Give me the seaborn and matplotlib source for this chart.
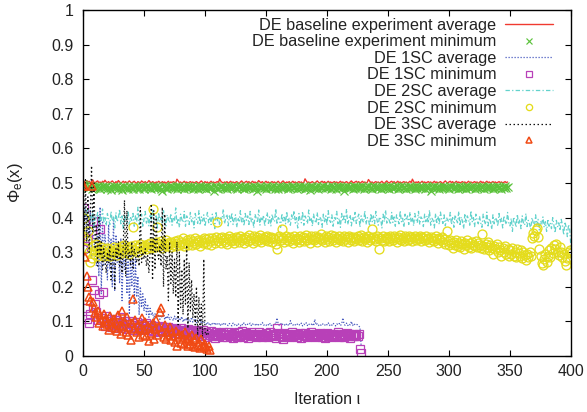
import numpy as np
import matplotlib
matplotlib.use("Agg")
import matplotlib.pyplot as plt
import seaborn as sns
from matplotlib.lines import Line2D
from matplotlib.ticker import FuncFormatter

# ---------------- data (values in thousandths, one value per iteration) ----------------
labels = [
    "DE baseline experiment average",
    "DE baseline experiment minimum",
    "DE 1SC average",
    "DE 1SC minimum",
    "DE 2SC average",
    "DE 2SC minimum",
    "DE 3SC average",
    "DE 3SC minimum",
]

base_avg = [
    500,505,498,507,502,505,501,503,509,502,500,504,506,501,503,499,505,502,508,503,501,504,500,503,506,
    502,499,504,501,507,503,500,502,505,501,504,498,503,506,502,500,503,505,501,499,504,502,500,506,503,
    501,504,500,502,507,503,500,504,502,499,503,501,505,502,500,504,501,503,499,502,505,500,503,501,504,
    502,500,511,506,501,503,499,502,505,501,503,500,502,504,501,503,500,502,504,501,499,503,506,502,500,
    504,501,503,498,502,505,501,503,500,502,504,501,512,505,502,500,503,501,504,499,502,505,501,503,500,
    502,504,501,498,503,506,502,500,503,505,501,504,499,502,505,501,503,500,502,507,503,501,504,500,502,
    505,501,503,499,502,504,501,503,500,502,505,501,498,503,506,502,500,503,501,504,499,502,505,501,503,
    500,502,504,501,503,499,502,512,506,501,503,500,502,504,501,499,503,506,502,500,503,505,501,504,499,
    502,505,501,503,500,502,504,501,503,499,502,505,501,503,500,502,504,501,498,503,506,502,500,503,505,
    501,504,499,502,505,501,503,500,502,510,505,501,503,499,502,504,501,503,500,502,505,501,498,503,506,
    502,500,503,505,501,504,499,502,505,501,503,500,502,504,501,503,499,502,505,501,511,504,500,503,501,
    504,499,502,505,501,503,500,502,504,501,503,499,502,505,501,503,500,502,504,501,498,503,506,502,500,
    503,505,501,504,499,502,505,501,503,500,502,504,501,503,499,502,505,501,503,500,502,504,501,503,499,
    502,505,501,503,499,502,505,501,503,500,502,504,501,503,500,502,504,501,503,500,502,504,501,503,
]

base_min = [
    498,494,492,489,486,490,487,484,491,488,485,489,492,486,483,488,490,485,487,492,484,489,486,481,488,
    490,485,487,491,484,488,486,479,489,492,485,487,483,490,486,488,484,491,487,485,489,482,488,490,486,
    484,489,487,491,485,488,483,490,486,488,492,485,487,489,484,478,488,491,486,484,489,487,492,485,488,
    486,490,484,488,491,485,487,489,483,488,486,490,485,487,492,484,489,486,488,482,490,487,485,489,486,
    488,484,491,486,489,485,487,477,488,490,486,484,489,487,491,485,488,486,483,490,487,489,485,488,492,
    486,484,489,487,490,485,488,483,491,486,488,485,489,487,484,490,486,488,478,487,491,485,489,486,488,
    484,490,487,485,489,486,491,484,488,487,483,490,486,488,485,489,487,492,484,488,486,490,485,487,489,
    483,488,486,491,485,487,490,484,489,486,488,479,487,490,485,488,486,491,484,489,487,485,490,486,488,
    485,489,487,483,490,486,488,484,491,487,485,489,486,488,477,487,490,485,489,486,488,484,491,486,487,
    489,485,488,486,490,484,487,489,485,491,486,488,483,490,487,485,489,486,488,484,490,487,485,489,486,
    488,484,491,486,489,485,487,490,484,488,486,491,485,487,489,483,488,486,490,485,487,489,484,491,486,
    487,485,489,486,488,484,490,487,485,489,478,488,486,491,485,487,489,484,488,486,490,485,487,489,486,
    484,490,487,485,489,486,488,483,491,486,488,485,489,487,484,490,486,488,485,487,491,484,489,486,488,
    485,489,487,490,484,488,486,491,485,487,489,484,488,486,490,485,487,489,484,488,486,490,485,487,
]

sc1_avg = [
    445,380,430,310,400,350,420,280,395,330,300,260,410,230,430,180,390,260,350,300,220,380,250,340,200,
    400,190,350,270,320,210,340,160,300,250,330,180,310,120,290,200,320,150,280,170,230,120,200,140,180,
    130,165,120,150,112,138,118,125,108,122,115,112,120,106,118,110,124,105,115,108,120,104,112,110,102,
    115,106,112,100,110,104,114,98,108,102,110,96,106,100,112,98,104,108,96,102,100,106,94,100,98,
    96,92,98,90,95,88,94,91,97,89,93,90,95,87,92,96,89,93,90,88,94,91,87,95,90,
    92,88,94,90,87,93,89,96,91,88,92,90,95,88,93,89,91,87,94,90,88,92,97,89,91,
    88,93,90,95,87,92,89,94,91,110,93,88,92,96,89,91,87,94,90,88,102,91,89,93,90,
    88,94,91,89,95,87,92,90,96,88,93,89,91,95,87,106,90,93,88,92,89,94,91,88,93,
    90,96,88,92,89,95,91,87,93,90,94,88,92,110,91,89,95,88,93,90,100,88,94,90,92,
    90,86,84,28,
]

sc1_min = [
    310,427,140,107,340,96,120,220,390,190,150,127,105,180,366,110,185,98,88,115,102,92,108,84,96,
    90,105,82,98,86,112,80,94,88,102,78,92,85,100,82,95,76,90,84,98,80,88,75,92,82,
    86,78,94,74,84,80,90,72,86,78,82,70,88,76,80,72,85,74,78,68,84,72,76,70,80,
    66,78,72,74,64,80,70,75,68,72,62,78,70,74,66,71,60,76,68,72,64,70,58,74,66,
    62,70,55,66,60,72,58,64,52,68,61,57,66,63,54,70,60,65,56,62,68,58,64,53,66,
    60,56,68,62,58,72,55,64,60,66,52,63,58,70,61,57,65,54,62,68,59,64,56,62,58,
    66,60,54,68,62,57,64,60,52,80,66,58,63,56,50,67,61,58,65,54,62,69,57,63,60,
    56,64,60,67,53,62,58,66,61,55,64,59,70,57,62,54,65,60,58,66,62,56,64,51,60,
    67,58,63,55,62,60,65,57,61,68,54,62,59,64,56,60,66,58,63,52,61,57,65,59,62,
    58,64,20,9,
]

sc2_avg = [
    445,430,418,402,425,395,410,388,420,372,405,398,415,380,408,392,425,385,400,376,412,395,380,418,390,
    402,370,415,388,398,425,382,405,368,410,395,386,420,378,400,392,412,375,405,388,430,380,398,410,372,
    395,418,384,402,376,410,390,425,382,398,405,370,415,388,400,382,420,392,376,408,395,385,412,378,402,
    390,428,380,398,372,410,395,386,418,375,405,392,380,415,388,400,370,412,395,383,420,378,402,390,408,
    374,398,415,385,402,380,410,392,368,418,388,405,378,400,395,425,382,398,410,376,405,388,414,380,396,
    408,372,400,390,420,384,398,376,412,392,405,380,418,388,396,370,410,398,385,422,378,402,390,407,375,
    398,415,383,402,376,410,392,388,426,380,400,395,372,412,390,405,382,418,386,398,378,408,395,420,384,
    400,370,412,392,385,418,378,405,396,382,422,388,400,375,410,392,384,415,380,402,396,372,410,388,405,
    378,420,392,386,408,375,400,395,418,382,398,372,412,390,405,385,425,380,396,408,376,402,390,415,383,
    398,410,372,405,392,386,420,380,400,394,375,412,388,405,382,418,392,378,402,396,370,410,388,422,384,
    400,392,380,415,386,402,375,408,395,382,420,388,398,372,410,392,405,380,416,386,400,376,412,394,385,
    418,380,402,396,374,410,388,405,384,422,378,398,392,370,412,386,404,380,416,395,383,408,376,400,392,
    388,415,380,400,372,408,394,385,418,376,402,390,368,412,384,405,395,378,420,388,400,374,410,392,382,
    404,385,372,410,390,380,416,376,398,388,366,408,382,400,394,375,412,386,398,370,405,390,380,415,384,
    376,398,360,402,388,372,410,380,395,368,405,385,378,412,374,392,382,366,400,386,372,408,378,395,364,
    390,380,402,372,388,360,396,375,385,368,400,378,356,392,374,385,362,395,378,350,388,372,345,380,365,
    310,
]

sc2_min = [
    346,400,312,335,360,300,272,282,318,295,305,325,290,310,298,315,300,288,308,296,312,302,290,305,298,
    315,300,308,292,312,305,318,298,310,322,302,315,308,296,318,310,373,305,320,312,300,318,325,310,316,
    318,322,310,325,315,328,312,425,320,316,330,373,318,325,332,312,328,320,335,318,326,330,315,328,322,
    332,318,326,336,320,330,325,340,318,328,335,322,330,338,320,332,326,340,324,335,330,318,336,328,342,
    330,338,325,342,332,320,340,335,328,345,387,332,340,326,345,336,330,342,325,338,348,332,340,335,328,
    345,336,340,330,348,335,342,326,338,345,332,350,336,340,328,346,338,332,344,335,350,330,342,338,345,
    336,348,332,340,345,330,342,338,325,309,340,346,335,367,342,330,348,336,340,332,345,338,328,346,335,
    342,338,330,348,336,345,332,340,350,335,342,328,346,338,334,348,340,330,345,338,352,336,342,330,346,
    338,344,332,350,340,336,346,330,342,338,348,335,340,332,346,338,344,330,348,340,336,345,332,342,338,
    346,335,340,350,332,344,338,342,330,348,336,340,367,345,338,332,346,340,309,342,336,348,332,340,345,
    338,332,346,340,335,348,342,330,344,338,350,336,342,332,346,340,335,348,338,344,332,340,346,336,342,
    338,346,332,344,340,335,348,338,342,330,345,336,340,332,346,338,326,340,334,344,330,338,325,360,332,
    320,334,326,312,330,322,336,318,328,315,332,324,310,328,320,335,316,326,312,330,322,318,332,314,326,
    320,312,353,318,308,325,314,330,305,320,312,296,318,308,324,300,315,306,290,312,302,318,296,310,288,
    305,296,312,290,302,286,310,298,288,305,282,300,292,278,296,285,302,290,340,355,348,365,370,345,310,
    288,270,262,280,295,272,290,305,286,312,298,320,310,325,302,292,315,300,285,296,275,262,282,300,305,
    298,
]

sc3_avg = [
    480,360,510,330,460,300,420,550,360,500,310,380,260,400,290,330,250,310,280,240,300,270,320,220,290,
    300,190,310,280,330,260,300,240,320,450,230,420,280,300,260,330,250,310,290,270,300,260,430,270,300,
    280,310,260,290,240,300,440,220,420,250,400,300,280,320,260,430,200,410,250,290,160,330,210,300,180,
    280,170,330,90,300,140,250,120,280,150,320,80,270,130,220,110,180,90,200,60,170,80,150,50,280,
    70,60,75,55,
]

sc3_min = [
    490,492,285,230,200,170,160,490,155,140,125,112,130,95,118,105,88,120,100,110,92,75,115,98,85,
    108,80,95,72,118,90,65,130,88,100,70,112,60,85,46,95,165,78,105,68,90,55,82,110,62,
    75,98,58,88,42,80,66,95,50,78,105,60,85,127,140,72,55,90,48,70,62,85,45,68,58,
    40,72,30,55,65,38,60,48,35,70,42,28,55,36,62,30,45,25,52,33,40,22,48,30,26,
    35,25,20,28,18,
]

series_values = [base_avg, base_min, sc1_avg, sc1_min, sc2_avg, sc2_min, sc3_avg, sc3_min]

x_ticks = list(range(0, 401, 50))
y_ticks = [round(0.1 * k, 1) for k in range(11)]

# ---------------- styles ----------------
styles = [
    dict(color="#f03a30", linestyle="-", linewidth=1.0),
    dict(color="#5cc23c", linestyle="", marker="x", markersize=5.2,
         markeredgewidth=0.85, markerfacecolor="none", markeredgecolor="#5cc23c"),
    dict(color="#4a5cc0", linestyle=(0, (1.0, 1.4)), linewidth=0.9),
    dict(color="#b840b8", linestyle="", marker="s", markersize=5.3,
         markeredgewidth=0.9, markerfacecolor="none", markeredgecolor="#b840b8"),
    dict(color="#62d2cc", linestyle=(0, (3.5, 1.8, 1.0, 1.8)), linewidth=0.9),
    dict(color="#e4dc1c", linestyle="", marker="o", markersize=6.4,
         markeredgewidth=0.95, markerfacecolor="none", markeredgecolor="#e4dc1c"),
    dict(color="#111111", linestyle=(0, (1.2, 2.0)), linewidth=0.9),
    dict(color="#f04a14", linestyle="", marker="^", markersize=6.0,
         markeredgewidth=1.1, markerfacecolor="none", markeredgecolor="#f04a14"),
]
legend_marker_sizes = [None, 4.0, None, 4.0, None, 4.5, None, 4.5]

sns.set_theme(style="ticks")
plt.rcParams["font.family"] = ["Liberation Sans", "DejaVu Sans"]
plt.rcParams["mathtext.default"] = "regular"
plt.rcParams["font.size"] = 11

fig = plt.figure(figsize=(5.87, 4.12), dpi=100)
ax = fig.add_axes([83 / 587, 56 / 412, 488 / 587, 346 / 412])

handles = []
for vals, st, lms in zip(series_values, styles, legend_marker_sizes):
    y = np.asarray(vals, dtype=float) / 1000.0
    x = np.arange(len(y))
    sns.lineplot(x=x, y=y, ax=ax, estimator=None, sort=False, **st)
    hst = dict(st)
    if lms is not None:
        hst["markersize"] = lms
    handles.append(Line2D([], [], **hst))

ax.set_xlim(0, 400)
ax.set_ylim(0, 1)
ax.set_xticks(x_ticks)
ax.set_yticks(y_ticks)
ax.xaxis.set_major_formatter(FuncFormatter(lambda v, p: "%g" % v))
ax.yaxis.set_major_formatter(FuncFormatter(lambda v, p: "%g" % round(v, 1)))
ax.tick_params(axis="both", direction="in", top=True, right=True, length=4.5,
               width=0.8, colors="black", labelsize=11.5, labelcolor="#222222")
ax.tick_params(axis="x", pad=6)
ax.tick_params(axis="y", pad=7)
for s in ax.spines.values():
    s.set_color("black")
    s.set_linewidth(1.0)

ax.set_xlabel("Iteration ι", fontsize=11.5, labelpad=9, color="#222222")
ax.set_ylabel(r"$\Phi_e(x)$", fontsize=12, labelpad=19, color="#222222")

leg = ax.legend(handles, labels, loc="upper right", bbox_to_anchor=(0.964, 0.978),
                markerfirst=False, frameon=False, numpoints=1, handlelength=3.0,
                handletextpad=0.5, labelspacing=0.1, borderpad=0, borderaxespad=0,
                fontsize=11.7)
for t in leg.get_texts():
    t.set_color("#222222")

fig.savefig("out.png", dpi=100)
